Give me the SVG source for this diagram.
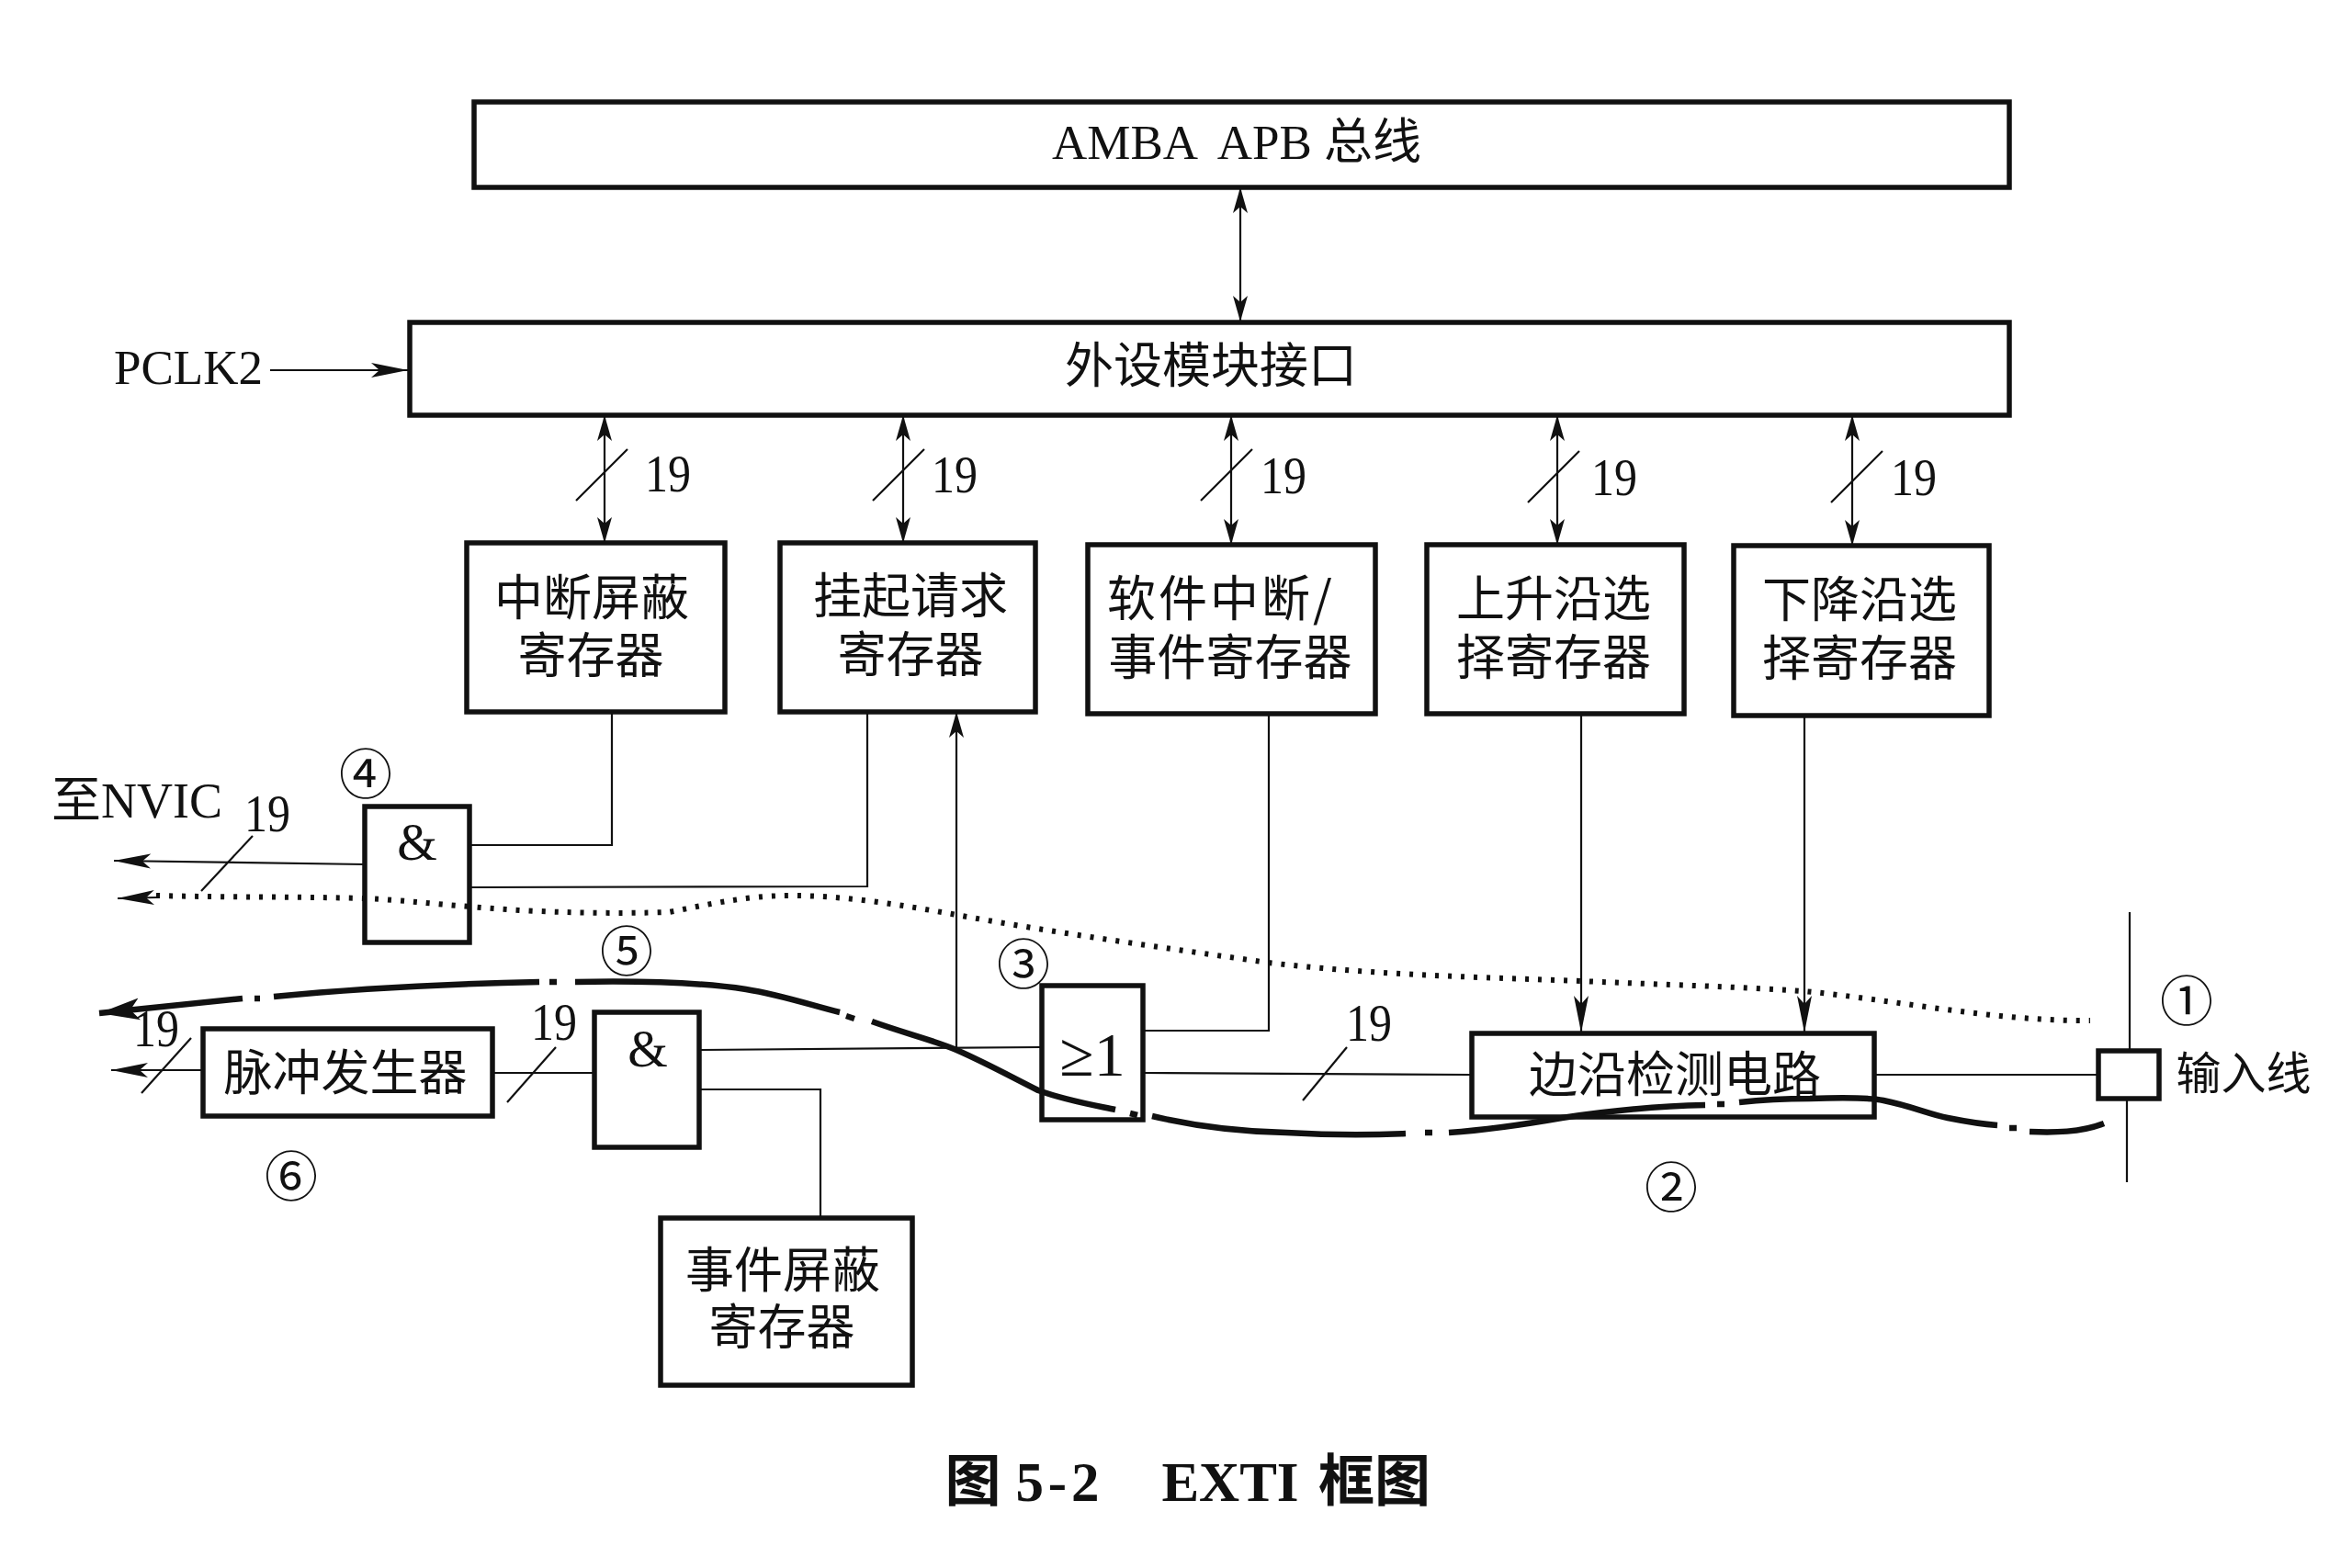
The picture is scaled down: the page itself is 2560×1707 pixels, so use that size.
<svg xmlns="http://www.w3.org/2000/svg" width="2560" height="1707" viewBox="0 0 2560 1707">
<style>
.box{fill:none;stroke:#111;stroke-width:5.5}
.ln{fill:none;stroke:#111;stroke-width:2.2}
.arr{marker-end:url(#ah)}
.arl{marker-end:url(#ahl)}
.dbl{marker-end:url(#ah);marker-start:url(#ah)}
.thick{fill:none;stroke:#111;stroke-width:6.5}
.dots{fill:none;stroke:#111;stroke-width:6;stroke-dasharray:4 10}
text{fill:#111;font-family:"Noto Sans CJK SC","Liberation Serif",sans-serif;text-anchor:middle;white-space:pre}
.cn{font-size:53px}
.lat{font-family:"Liberation Serif","Noto Sans CJK SC",serif;font-size:53px}
.num{font-family:"Liberation Serif",serif;font-size:56px}
.gate{font-family:"Liberation Serif",serif;font-size:56px}
.circ{font-size:58px;font-weight:400}
.title{font-family:"Liberation Serif","Noto Sans CJK SC",serif;font-size:61px;font-weight:700}
</style>
<defs>
<marker id="ah" markerUnits="userSpaceOnUse" markerWidth="30" markerHeight="18" refX="28" refY="9" orient="auto-start-reverse"><path d="M0,1 L28,9 L0,17 L7,9 z" fill="#111"/></marker>
<marker id="ahl" markerUnits="userSpaceOnUse" markerWidth="42" markerHeight="18" refX="40" refY="9" orient="auto"><path d="M0,1 L40,9 L0,17 L9,9 z" fill="#111"/></marker>
<marker id="ahb" markerUnits="userSpaceOnUse" markerWidth="46" markerHeight="26" refX="44" refY="13" orient="auto"><path d="M0,1 L44,13 L0,25 L10,13 z" fill="#111"/></marker>
</defs>
<rect width="2560" height="1707" fill="#fff"/>
<g id="connectors">
<path class="ln dbl" d="M1350,204V350"/>
<path class="ln arl" d="M294,403H444"/>
<path class="ln dbl" d="M658,452V591"/>
<path class="ln dbl" d="M983,452V591"/>
<path class="ln dbl" d="M1340,452V593"/>
<path class="ln dbl" d="M1695,452V593"/>
<path class="ln dbl" d="M2016,452V594"/>
<path class="ln" d="M627,545L683,489M950,545L1006,489M1307,545L1363,489M1663,547L1719,491M1993,547L2049,491"/>
<path class="ln" d="M512,920H666V775"/>
<path class="ln" d="M512,966L944,965V775"/>
<path class="ln arl" d="M397,941L124,937"/>
<path class="ln" d="M275,910L219,970"/>
<path class="dots" d="M170,975C250,977 320,976 397,978C440,980 470,984 512,987C590,994 670,995 728,993C770,985 810,975 861,975C920,975 980,985 1036,995C1150,1016 1270,1032 1380,1048C1500,1062 1620,1064 1720,1068C1810,1072 1890,1074 1963,1079C2060,1088 2170,1112 2275,1111"/>
<path class="ln arl" d="M170,977L128,978"/>
<path class="ln arr" d="M1041,1141V775"/>
<path class="ln" d="M763,1143L1134,1140"/>
<path class="ln" d="M763,1186H893V1326"/>
<path class="ln arl" d="M221,1165H121"/>
<path class="ln" d="M208,1130L154,1190"/>
<path class="ln" d="M536,1168H647"/>
<path class="ln" d="M605,1140L552,1200"/>
<path class="ln" d="M1244,1122H1381V777"/>
<path class="ln" d="M1244,1168L1602,1170"/>
<path class="ln" d="M1466,1140L1418,1198"/>
<path class="ln" d="M2040,1170H2283"/>
<path class="ln arl" d="M1721,777V1124"/>
<path class="ln arl" d="M1964,779V1124"/>
<path class="ln" d="M2318,993V1143M2315,1196V1287"/>
<path class="thick" style="marker-end:url(#ahb)" d="M264,1087C215,1092 165,1097 108,1103"/>
<path class="thick" d="M277,1087H283"/>
<path class="thick" d="M298,1085C390,1076 490,1071 587,1069"/>
<path class="thick" d="M598,1069H606"/>
<path class="thick" d="M626,1069C680,1068 760,1069 812,1077C850,1083 885,1095 914,1102"/>
<path class="thick" d="M921,1106L930,1109"/>
<path class="thick" d="M949,1112C985,1125 1015,1132 1041,1143C1075,1158 1100,1172 1130,1187C1160,1198 1190,1203 1214,1208"/>
<path class="thick" d="M1230,1212L1238,1214"/>
<path class="thick" d="M1254,1215C1300,1226 1350,1232 1400,1233C1450,1236 1490,1236 1530,1234"/>
<path class="thick" d="M1551,1233H1559"/>
<path class="thick" d="M1577,1233C1620,1230 1660,1224 1700,1217C1760,1208 1810,1204 1856,1203"/>
<path class="thick" d="M1869,1202H1877"/>
<path class="thick" d="M1893,1200C1920,1197 1945,1196 1970,1196C2000,1195 2035,1195 2050,1198C2080,1204 2100,1213 2120,1217C2140,1221 2160,1224 2174,1225"/>
<path class="thick" d="M2187,1228H2195"/>
<path class="thick" d="M2209,1232C2235,1233 2265,1233 2290,1223"/>
</g>
<g id="amba-bus"><rect class="box" x="516" y="111" width="1671" height="93"/><text x="1346" y="173" class="lat">AMBA  APB 总线</text></g>
<g id="peripheral-interface"><rect class="box" x="446" y="351" width="1741" height="101"/><text x="1318" y="417" class="cn">外设模块接口</text></g>
<g id="pclk2"><text x="205" y="418" class="lat">PCLK2</text></g>
<g id="interrupt-mask"><rect class="box" x="508" y="591" width="281" height="184"/><text class="cn"><tspan x="644" y="670">中断屏蔽</tspan><tspan x="643" y="733">寄存器</tspan></text></g>
<g id="pending-request"><rect class="box" x="849" y="591" width="278" height="184"/><text class="cn"><tspan x="991" y="668">挂起请求</tspan><tspan x="991" y="732">寄存器</tspan></text></g>
<g id="software-interrupt"><rect class="box" x="1184" y="593" width="313" height="184"/><text class="cn"><tspan x="1329" y="671" letter-spacing="3">软件中断/</tspan><tspan x="1339" y="735">事件寄存器</tspan></text></g>
<g id="rising-edge"><rect class="box" x="1553" y="593" width="280" height="184"/><text class="cn"><tspan x="1691" y="671">上升沿选</tspan><tspan x="1691" y="735">择寄存器</tspan></text></g>
<g id="falling-edge"><rect class="box" x="1887" y="594" width="278" height="185"/><text class="cn"><tspan x="2024" y="672">下降沿选</tspan><tspan x="2024" y="736">择寄存器</tspan></text></g>
<g id="and-gate-nvic"><rect class="box" x="397" y="878" width="114" height="148"/><text x="454" y="936" class="gate">&amp;</text></g>
<g id="and-gate-event"><rect class="box" x="647" y="1102" width="114" height="147"/><text x="705" y="1161" class="gate">&amp;</text></g>
<g id="or-gate"><rect class="box" x="1134" y="1073" width="110" height="146"/><text x="1189" y="1171" class="gate" style="font-size:68px">≥1</text></g>
<g id="pulse-generator"><rect class="box" x="221" y="1120" width="315" height="95"/><text x="376" y="1187" class="cn">脉冲发生器</text></g>
<g id="edge-detect"><rect class="box" x="1602" y="1125" width="438" height="91"/><text x="1823" y="1189" class="cn">边沿检测电路</text></g>
<g id="event-mask"><rect class="box" x="719" y="1326" width="274" height="182"/><text class="cn"><tspan x="852" y="1402">事件屏蔽</tspan><tspan x="851" y="1464">寄存器</tspan></text></g>
<g id="input-pad"><rect class="box" x="2284" y="1144" width="66" height="52"/><text x="2442" y="1186" class="cn" style="font-size:49px">输入线</text></g>
<g id="nvic-label"><text x="56" y="890" class="lat" style="font-size:54px;text-anchor:start">至NVIC</text></g>
<g id="bus-widths">
<text x="727" y="535" class="num" textLength="50" lengthAdjust="spacingAndGlyphs">19</text>
<text x="1039" y="536" class="num" textLength="50" lengthAdjust="spacingAndGlyphs">19</text>
<text x="1397" y="537" class="num" textLength="50" lengthAdjust="spacingAndGlyphs">19</text>
<text x="1757" y="539" class="num" textLength="50" lengthAdjust="spacingAndGlyphs">19</text>
<text x="2083" y="539" class="num" textLength="50" lengthAdjust="spacingAndGlyphs">19</text>
<text x="291" y="905" class="num" textLength="50" lengthAdjust="spacingAndGlyphs">19</text>
<text x="170" y="1139" class="num" textLength="50" lengthAdjust="spacingAndGlyphs">19</text>
<text x="603" y="1132" class="num" textLength="50" lengthAdjust="spacingAndGlyphs">19</text>
<text x="1490" y="1133" class="num" textLength="50" lengthAdjust="spacingAndGlyphs">19</text>
</g>
<g id="callouts">
<text x="2380" y="1111" class="circ">①</text>
<text x="1819" y="1314" class="circ">②</text>
<text x="1114" y="1071" class="circ">③</text>
<text x="398" y="864" class="circ">④</text>
<text x="682" y="1057" class="circ">⑤</text>
<text x="317" y="1302" class="circ">⑥</text>
</g>
<g id="caption"><text x="1059" y="1634" class="title">图</text><text x="1151" y="1634" class="title" textLength="91" lengthAdjust="spacing">5-2</text><text x="1339" y="1634" class="title">EXTI</text><text x="1496" y="1634" class="title">框图</text></g>
</svg>
